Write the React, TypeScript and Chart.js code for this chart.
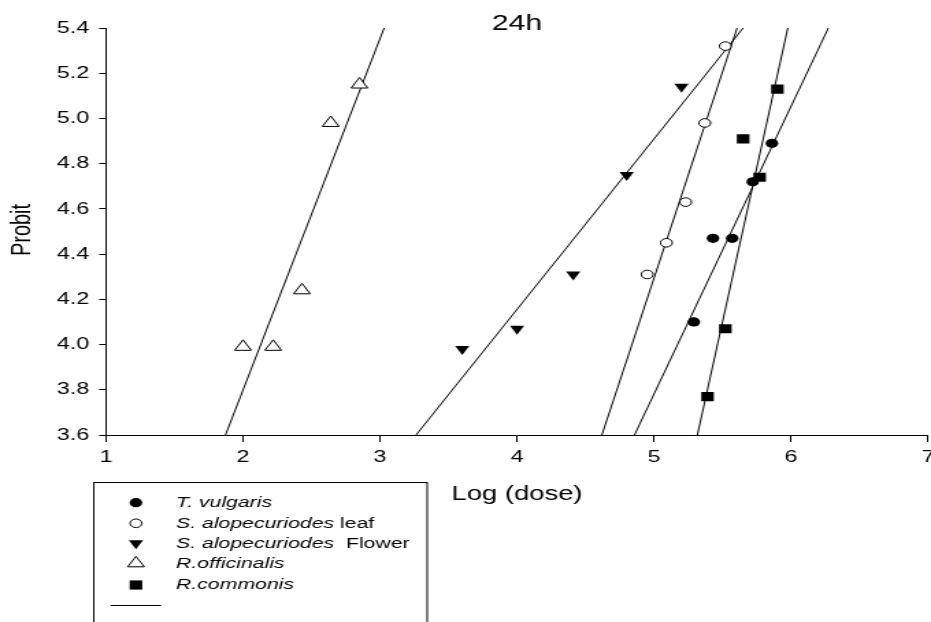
import { useEffect, useRef } from "react";
import { Chart, registerables } from "chart.js";

Chart.register(...registerables);

// ---------- text ----------
const TITLE = "24h";
const X_TITLE = "Log (dose)";
const Y_TITLE = "Probit";

// ---------- axes ----------
const X_MIN = 1;
const X_MAX = 7;
const X_STEP = 1;
const Y_MIN = 3.6;
const Y_MAX = 5.4;
const Y_STEP = 0.2;

// ---------- observed points (Log dose, Probit) ----------
const tvX = [5.29, 5.43, 5.57, 5.72, 5.86];
const tvY = [4.1, 4.47, 4.47, 4.72, 4.89];

const leafX = [4.95, 5.09, 5.23, 5.37, 5.52];
const leafY = [4.31, 4.45, 4.63, 4.98, 5.32];

const flowerX = [3.6, 4.0, 4.41, 4.8, 5.2];
const flowerY = [3.98, 4.07, 4.31, 4.75, 5.14];

const offX = [2.0, 2.22, 2.43, 2.64, 2.85];
const offY = [3.99, 3.99, 4.24, 4.98, 5.15];

const comX = [5.39, 5.52, 5.65, 5.77, 5.9];
const comY = [3.77, 4.07, 4.91, 4.74, 5.13];

// ---------- fitted regression lines (x at Probit 3.6 and 5.4) ----------
const fitY = [3.6, 5.4];
const tvFitX = [4.857, 6.272];
const leafFitX = [4.619, 5.606];
const flowerFitX = [3.263, 5.65];
const offFitX = [1.872, 3.03];
const comFitX = [5.316, 5.976];

// ---------- legend ----------
const legendItalic = ["T. vulgaris", "S. alopecuriodes", "S. alopecuriodes", "R.officinalis", "R.commonis"];
const legendPlain = ["", " leaf", "  Flower", "", ""];
const legendMarkers = ["dot", "ring", "down", "up", "square"];

const FONT = '"Liberation Sans", Arial, Helvetica, sans-serif';
const CW = 680; // internal canvas width (picture is horizontally stretched)
const CH = 622;

const pts = (xs: number[], ys: number[]) => xs.map((x, i) => ({ x, y: ys[i] }));

function drawMarker(ctx: CanvasRenderingContext2D, kind: string, x: number, y: number) {
  ctx.save();
  ctx.lineWidth = 1;
  ctx.strokeStyle = "#000";
  ctx.fillStyle = "#000";
  ctx.beginPath();
  if (kind === "dot") {
    ctx.arc(x, y, 4.6, 0, Math.PI * 2);
    ctx.fill();
  } else if (kind === "ring") {
    ctx.arc(x, y, 4.3, 0, Math.PI * 2);
    ctx.fillStyle = "#fff";
    ctx.fill();
    ctx.stroke();
  } else if (kind === "down") {
    const r = 6;
    ctx.moveTo(x, y + r);
    ctx.lineTo(x - r * 0.866, y - r / 2);
    ctx.lineTo(x + r * 0.866, y - r / 2);
    ctx.closePath();
    ctx.fill();
  } else if (kind === "up") {
    const r = 7;
    ctx.moveTo(x, y - r);
    ctx.lineTo(x - r * 0.866, y + r / 2);
    ctx.lineTo(x + r * 0.866, y + r / 2);
    ctx.closePath();
    ctx.fillStyle = "#fff";
    ctx.fill();
    ctx.stroke();
  } else if (kind === "square") {
    const s = 4.6;
    ctx.rect(x - s, y - s, 2 * s, 2 * s);
    ctx.fill();
  }
  ctx.restore();
}

const overlay = {
  id: "overlay",
  afterDraw(chart: any) {
    const ctx: CanvasRenderingContext2D = chart.ctx;
    const a = chart.chartArea;
    const cx = (a.left + a.right) / 2;
    ctx.save();
    ctx.fillStyle = "#000";
    ctx.textAlign = "center";
    ctx.textBaseline = "middle";
    ctx.font = `22px ${FONT}`;
    ctx.fillText(TITLE, cx, 24);
    ctx.font = `20px ${FONT}`;
    ctx.fillText(X_TITLE, cx, 494);
    ctx.save();
    ctx.translate(16, 230);
    ctx.rotate(-Math.PI / 2);
    ctx.fillText(Y_TITLE, 0, 0);
    ctx.restore();

    // legend box
    ctx.strokeStyle = "#000";
    ctx.lineWidth = 1;
    ctx.strokeRect(68.5, 482.5, 243.5, 220);
    const rows = [502.7, 523.3, 543.3, 563.3, 585];
    ctx.textAlign = "left";
    for (let i = 0; i < rows.length; i++) {
      drawMarker(ctx, legendMarkers[i], 99.3, rows[i]);
      ctx.font = `italic 15.5px ${FONT}`;
      ctx.fillStyle = "#000";
      ctx.fillText(legendItalic[i], 128.6, rows[i]);
      const w = ctx.measureText(legendItalic[i]).width;
      if (legendPlain[i]) {
        ctx.font = `15.5px ${FONT}`;
        ctx.fillText(legendPlain[i], 128.6 + w, rows[i]);
      }
    }
    ctx.beginPath();
    ctx.moveTo(80.8, 605.5);
    ctx.lineTo(117.6, 605.5);
    ctx.stroke();
    ctx.restore();
  },
};

const lineDs = (xs: number[]) => ({
  data: pts(xs, fitY),
  showLine: true,
  pointRadius: 0,
  borderColor: "#000",
  borderWidth: 1,
  fill: false,
  order: 1,
});

export default function App() {
  const ref = useRef<HTMLCanvasElement>(null);
  useEffect(() => {
    const canvas = ref.current!;
    const tickFont = { family: FONT, size: 17 };
    const chart = new Chart(canvas, {
      type: "scatter",
      data: {
        datasets: [
          {
            label: "T. vulgaris",
            data: pts(tvX, tvY),
            pointStyle: "circle",
            pointRadius: 4.6,
            backgroundColor: "#000",
            borderColor: "#000",
            borderWidth: 0,
            order: 0,
          },
          {
            label: "S. alopecuriodes leaf",
            data: pts(leafX, leafY),
            pointStyle: "circle",
            pointRadius: 4.3,
            backgroundColor: "#fff",
            borderColor: "#000",
            borderWidth: 1,
            order: 0,
          },
          {
            label: "S. alopecuriodes Flower",
            data: pts(flowerX, flowerY),
            pointStyle: "triangle",
            rotation: 180,
            pointRadius: 6,
            backgroundColor: "#000",
            borderColor: "#000",
            borderWidth: 0,
            order: 0,
          },
          {
            label: "R.officinalis",
            data: pts(offX, offY),
            pointStyle: "triangle",
            pointRadius: 7,
            backgroundColor: "#fff",
            borderColor: "#000",
            borderWidth: 1,
            order: 0,
          },
          {
            label: "R.commonis",
            data: pts(comX, comY),
            pointStyle: "rect",
            pointRadius: 6.5,
            backgroundColor: "#000",
            borderColor: "#000",
            borderWidth: 0,
            order: 0,
          },
          lineDs(tvFitX),
          lineDs(leafFitX),
          lineDs(flowerFitX),
          lineDs(offFitX),
          lineDs(comFitX),
        ] as any,
      },
      options: {
        responsive: false,
        animation: false,
        devicePixelRatio: 1,
        events: [],
        layout: { autoPadding: false, padding: { top: 28, right: 2.1, left: 0, bottom: 0 } },
        plugins: {
          legend: { display: false },
          tooltip: { enabled: false },
          title: { display: false },
        },
        scales: {
          x: {
            type: "linear",
            min: X_MIN,
            max: X_MAX,
            ticks: {
              stepSize: X_STEP,
              font: tickFont,
              color: "#000",
              padding: 5,
              maxRotation: 0,
              autoSkip: false,
            },
            grid: {
              display: true,
              drawOnChartArea: false,
              drawTicks: true,
              tickLength: 7,
              color: "#000",
              lineWidth: 1,
            },
            border: { display: true, color: "#000", width: 1 },
            afterFit: (s: any) => {
              s.height = CH - 435;
              s.paddingLeft = 0;
              s.paddingRight = 0;
            },
          },
          y: {
            type: "linear",
            min: Y_MIN,
            max: Y_MAX,
            ticks: {
              stepSize: Y_STEP,
              font: tickFont,
              color: "#000",
              padding: 7.2,
              autoSkip: false,
              callback: (v: any) => Number(v).toFixed(1),
            },
            grid: {
              display: true,
              drawOnChartArea: false,
              drawTicks: true,
              tickLength: 5,
              color: "#000",
              lineWidth: 1,
            },
            border: { display: true, color: "#000", width: 1 },
            afterFit: (s: any) => {
              s.width = 77.4;
              s.paddingTop = 0;
              s.paddingBottom = 0;
            },
          },
        },
      } as any,
      plugins: [overlay],
    });
    return () => chart.destroy();
  }, []);

  return (
    <div style={{ position: "fixed", left: 0, top: 0, width: 931, height: 622, background: "#fff" }}>
      <canvas
        ref={ref}
        width={CW}
        height={CH}
        style={{ display: "block", width: "931px", height: "622px" }}
      />
    </div>
  );
}
